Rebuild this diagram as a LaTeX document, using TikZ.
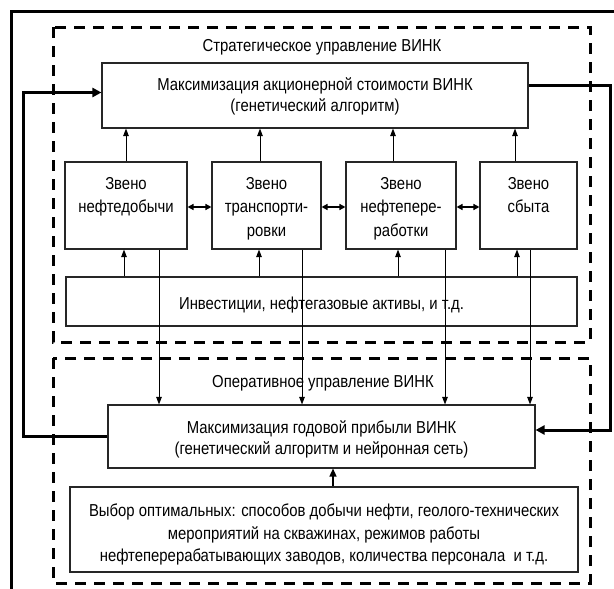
\documentclass[tikz,border=0pt]{standalone}
\usepackage{fontspec}
\setmainfont{Liberation Sans}[FakeStretch=0.86]
\usetikzlibrary{arrows.meta}
\begin{document}
\begin{tikzpicture}[x=1pt,y=-1pt,
  box/.style={draw=black!85, line width=1.1pt, fill=white, inner sep=0pt},
  txt/.style={anchor=base, inner sep=0pt, font=\fontsize{17.3}{20}\selectfont},
  grp/.style={line width=3pt, dash pattern=on 11pt off 8pt},
  arr/.style={line width=0.9pt, -{Triangle[length=7.5pt,width=5.5pt]}},
  darr/.style={line width=1.6pt, {Triangle[length=6pt,width=6pt]}-{Triangle[length=6pt,width=6pt]}},
  loopline/.style={line width=3pt, -{Triangle[length=9pt,width=9pt]}},
]
\useasboundingbox (0,0) rectangle (614,589);
% outer frame
\draw[line width=3.5pt] (11.5,589) -- (11.5,11.5) -- (614,11.5);
% group frames
\draw[grp] (53,27) rectangle (590,342);
\draw[grp] (53,358) rectangle (590,583);
% boxes
\node[box, minimum width=426pt, minimum height=65pt] (top) at (315,95.5) {};
\node[box, minimum width=122pt, minimum height=87pt] (l1) at (126,205.5) {};
\node[box, minimum width=109pt, minimum height=87pt] (l2) at (266.5,205.5) {};
\node[box, minimum width=110pt, minimum height=87pt] (l3) at (401,205.5) {};
\node[box, minimum width=97pt, minimum height=87pt] (l4) at (528.5,205.5) {};
\node[box, minimum width=511pt, minimum height=49pt] (inv) at (321.5,301.5) {};
\node[box, minimum width=427pt, minimum height=63pt] (op) at (321.5,436.5) {};
\node[box, minimum width=508pt, minimum height=85pt] (sel) at (324,529.5) {};
% texts
\node[txt] (stt) at (322,52) {Стратегическое управление ВИНК};
\node[txt] (t1) at (315,90) {Максимизация акционерной стоимости ВИНК};
\node[txt] (t2) at (315,111) {(генетический алгоритм)};
\node[txt] (a1) at (126,189) {Звено};
\node[txt] (a2) at (126,212) {нефтедобычи};
\node[txt] (b1) at (266.5,189) {Звено};
\node[txt] (b2) at (266.5,212) {транспорти-};
\node[txt] (b3) at (266.5,236) {ровки};
\node[txt] (c1) at (401,189) {Звено};
\node[txt] (c2) at (401,212) {нефтепере-};
\node[txt] (c3) at (401,236) {работки};
\node[txt] (d1) at (528.5,189) {Звено};
\node[txt] (d2) at (528.5,212) {сбыта};
\node[txt] (it) at (321.5,309) {Инвестиции, нефтегазовые активы, и т.д.};
\node[txt] (opt) at (323,387) {Оперативное управление ВИНК};
\node[txt] (o1) at (321.5,433) {Максимизация годовой прибыли ВИНК};
\node[txt] (o2) at (321.5,454) {(генетический алгоритм и нейронная сеть)};
\node[txt] (s1) at (324,516) {Выбор оптимальных: способов добычи нефти, геолого-технических};
\node[txt] (s2) at (324,539) {мероприятий на скважинах, режимов работы};
\node[txt] (s3) at (324,561) {нефтеперерабатывающих заводов, количества персонала \ и т.д.};
% arrows links -> top
\draw[arr] (l1.north) -- (l1.north |- top.south);
\draw[arr] ([xshift=-6.5pt]l2.north) -- ([xshift=-6.5pt]l2.north |- top.south);
\draw[arr] ([xshift=-8pt]l3.north) -- ([xshift=-8pt]l3.north |- top.south);
\draw[arr] ([xshift=-13.5pt]l4.north) -- ([xshift=-13.5pt]l4.north |- top.south);
% investments -> links
\draw[arr] ([xshift=-2pt]l1.south |- inv.north) -- ([xshift=-2pt]l1.south);
\draw[arr] ([xshift=-7.5pt]l2.south |- inv.north) -- ([xshift=-7.5pt]l2.south);
\draw[arr] ([xshift=-3pt]l3.south |- inv.north) -- ([xshift=-3pt]l3.south);
\draw[arr] ([xshift=-11.5pt]l4.south |- inv.north) -- ([xshift=-11.5pt]l4.south);
% links -> operational
\draw[arr] ([xshift=33pt]l1.south) -- ([xshift=33pt]l1.south |- op.north);
\draw[arr] ([xshift=35.5pt]l2.south) -- ([xshift=35.5pt]l2.south |- op.north);
\draw[arr] ([xshift=44pt]l3.south) -- ([xshift=44pt]l3.south |- op.north);
\draw[arr] ([xshift=1.5pt]l4.south) -- ([xshift=1.5pt]l4.south |- op.north);
% double arrows
\draw[darr] ([yshift=-1.5pt]l1.east) -- ([yshift=-1.5pt]l2.west);
\draw[darr] ([yshift=-1.5pt]l2.east) -- ([yshift=-1.5pt]l3.west);
\draw[darr] ([yshift=-1.5pt]l3.east) -- ([yshift=-1.5pt]l4.west);
% selection -> op
\draw[line width=1.4pt, -{Triangle[length=8pt,width=7pt]}] ([xshift=9pt]sel.north) -- ([xshift=9pt]sel.north |- op.south);
% loops
\coordinate (lx) at (23,0);
\coordinate (rx) at (610,0);
\draw[loopline] (op.west) -- (op.west -| lx) -- ([yshift=3pt]top.west -| lx) -- ([yshift=3pt]top.west);
\draw[loopline] ([yshift=10.5pt]top.east) -- ([yshift=10.5pt]top.east -| rx) -- ([yshift=6.5pt]op.east -| rx) -- ([yshift=6.5pt]op.east);
\end{tikzpicture}
\end{document}
